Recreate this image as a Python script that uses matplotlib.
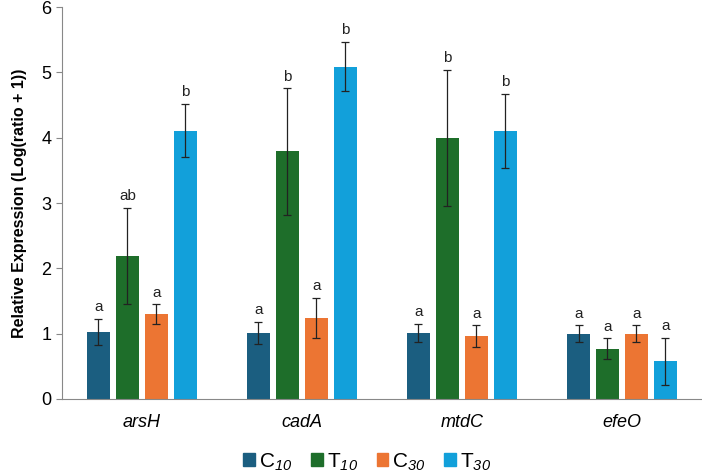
import numpy as np
import matplotlib.pyplot as plt
from matplotlib.patches import Patch

plt.rcParams['font.family'] = ['Liberation Sans', 'DejaVu Sans']
plt.rcParams['mathtext.fontset'] = 'custom'
plt.rcParams['mathtext.rm'] = 'Liberation Sans'
# italic digits: mathtext forces non-letters in \mathit upright, so use sf slot
plt.rcParams['mathtext.sf'] = 'Liberation Sans:italic'

genes = ['arsH', 'cadA', 'mtdC', 'efeO']
series = ['C10', 'T10', 'C30', 'T30']
series_labels = [r'C$_{\mathsf{10}}$', r'T$_{\mathsf{10}}$', r'C$_{\mathsf{30}}$', r'T$_{\mathsf{30}}$']

# mean values per series, one entry per gene
c10 = [1.03, 1.01, 1.01, 1.00]
t10 = [2.19, 3.79, 4.00, 0.77]
c30 = [1.30, 1.24, 0.96, 1.00]
t30 = [4.11, 5.09, 4.10, 0.58]

# error bar half-lengths
c10_err = [0.20, 0.17, 0.14, 0.13]
t10_err = [0.74, 0.97, 1.04, 0.16]
c30_err = [0.15, 0.31, 0.17, 0.13]
t30_err = [0.41, 0.38, 0.57, 0.36]

# significance letters
c10_sig = ['a', 'a', 'a', 'a']
t10_sig = ['ab', 'b', 'b', 'a']
c30_sig = ['a', 'a', 'a', 'a']
t30_sig = ['b', 'b', 'b', 'a']

values = [c10, t10, c30, t30]
errors = [c10_err, t10_err, c30_err, t30_err]
letters = [c10_sig, t10_sig, c30_sig, t30_sig]
colors = ['#1b5e80', '#1e6e2a', '#ec7533', '#12a0da']

fig = plt.figure(figsize=(7.02, 4.76), dpi=100)
ax = fig.add_axes([0.088, 0.162, 0.912, 0.823])

x = np.arange(len(genes))
width = 0.145
step = 0.181
for i, (vals, errs, sig, col) in enumerate(zip(values, errors, letters, colors)):
    pos = x + (i - 1.5) * step
    ax.bar(pos, vals, width, color=col, zorder=2)
    ax.errorbar(pos, vals, yerr=errs, fmt='none', ecolor='#222222',
                elinewidth=0.9, capsize=3, capthick=0.9, zorder=3)
    for p, v, e, s in zip(pos, vals, errs, sig):
        ax.text(p, v + e + 0.07, s, ha='center', va='bottom', fontsize=11, color='#222222')

ax.set_xlim(-0.5, 3.5)
ax.set_ylim(0, 6)
ax.set_yticks(range(7))
ax.tick_params(axis='y', labelsize=13, length=4, color='#888888', width=0.8)
ax.set_xticks(x)
ax.set_xticklabels(genes, fontstyle='italic', fontsize=13)
ax.tick_params(axis='x', length=0, pad=11)
ax.set_ylabel('Relative Expression (Log(ratio + 1))', fontsize=11.5, fontweight='bold', labelpad=10)
for side in ['top', 'right']:
    ax.spines[side].set_visible(False)
ax.spines['left'].set_color('#888888')
ax.spines['bottom'].set_color('#888888')

handles = [Patch(color=c, label=l) for c, l in zip(colors, series_labels)]
fig.legend(handles=handles, loc='center', bbox_to_anchor=(0.523, 0.03), ncol=4,
           frameon=False, fontsize=15, handlelength=0.55, handleheight=0.55,
           handletextpad=0.2, columnspacing=0.9)

fig.savefig('out.png', dpi=100)
